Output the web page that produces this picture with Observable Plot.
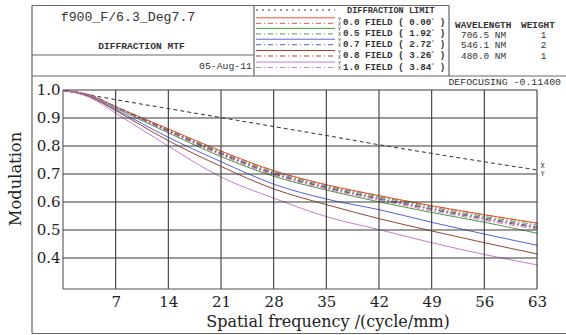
<!DOCTYPE html>
<html><head><meta charset="utf-8">
<script src="https://cdn.jsdelivr.net/npm/d3@7"></script>
<script src="https://cdn.jsdelivr.net/npm/@observablehq/plot@0.6"></script>
<style>body{margin:0;background:#fff}</style>
</head><body><div id="chart"></div>
<script>
// ---- data ----
const freq      = [0, 3.5, 7, 14, 21, 28, 35, 42, 49, 56, 63];
const diffLimit = [1, 0.984, 0.967, 0.935, 0.903, 0.871, 0.839, 0.806, 0.775, 0.745, 0.716];
const t00 = [1, 0.984, 0.942, 0.862, 0.783, 0.713, 0.663, 0.624, 0.588, 0.556, 0.526];
const s00 = [1, 0.984, 0.942, 0.862, 0.783, 0.713, 0.663, 0.624, 0.588, 0.556, 0.526];
const t05 = [1, 0.981, 0.936, 0.848, 0.763, 0.693, 0.644, 0.602, 0.564, 0.529, 0.490];
const s05 = [1, 0.983, 0.941, 0.858, 0.778, 0.708, 0.659, 0.620, 0.583, 0.550, 0.519];
const t07 = [1, 0.979, 0.931, 0.832, 0.745, 0.665, 0.612, 0.574, 0.529, 0.487, 0.447];
const s07 = [1, 0.983, 0.940, 0.856, 0.775, 0.704, 0.655, 0.615, 0.578, 0.545, 0.513];
const t08 = [1, 0.978, 0.927, 0.820, 0.728, 0.648, 0.592, 0.542, 0.498, 0.456, 0.416];
const s08 = [1, 0.983, 0.939, 0.854, 0.772, 0.701, 0.652, 0.612, 0.575, 0.541, 0.509];
const t10 = [1, 0.975, 0.918, 0.800, 0.690, 0.615, 0.549, 0.503, 0.456, 0.414, 0.377];
const s10 = [1, 0.982, 0.938, 0.851, 0.768, 0.697, 0.648, 0.608, 0.570, 0.536, 0.504];
const xTicks = [7, 14, 21, 28, 35, 42, 49, 56, 63];
const yTicks = [0.4, 0.5, 0.6, 0.7, 0.8, 0.9, 1.0];
const yTickLabels = ["0.4", "0.5", "0.6", "0.7", "0.8", "0.9", "1.0"];
const xDomain = [0, 63];
const yDomain = [0.2893, 1];
const fieldNames = ["0.0", "0.5", "0.7", "0.8", "1.0"];
const fieldAngles = ["0.00", "1.92", "2.72", "3.26", "3.84"];
const fieldColors = ["#f0502c", "#4c9a48", "#5262d6", "#9a4434", "#c67cc8"];
const tangential = [t00, t05, t07, t08, t10];
const sagittal = [s00, s05, s07, s08, s10];
const wavelengths = ["706.5 NM", "546.1 NM", "480.0 NM"];
const weights = ["1", "2", "1"];

const toRows = vals => freq.map((f, i) => ({f, v: vals[i]}));
const serif = "DejaVu Serif";
const mono = "Liberation Mono";
const gridColor = "#3a3a3a";

const marks = [
  Plot.line(toRows(diffLimit), {x: "f", y: "v", stroke: "#222", strokeWidth: 1, strokeDasharray: "3,4", curve: "monotone-x"})
];
tangential.forEach((vals, k) => {
  marks.push(Plot.line(toRows(vals), {x: "f", y: "v", stroke: fieldColors[k], strokeWidth: 1, curve: "monotone-x"}));
});
sagittal.forEach((vals, k) => {
  marks.push(Plot.line(toRows(vals), {x: "f", y: "v", stroke: fieldColors[k], strokeWidth: 1, strokeDasharray: "5,3,1,3", curve: "monotone-x"}));
});
marks.push(
  Plot.text(xTicks, {x: d => d, y: () => yDomain[0], dy: 13, text: d => String(d), fontSize: 15, fontFamily: serif, fill: "#222"}),
  Plot.text(yTicks, {x: () => xDomain[0], y: d => d, dx: -3, text: (d, i) => yTickLabels[i], textAnchor: "end", fontSize: 15, fontFamily: serif, fill: "#222"}),
  Plot.text([diffLimit[diffLimit.length - 1]], {x: () => 63, y: d => d, dx: 5, dy: -4, text: () => "X", fontSize: 7, fontFamily: mono, fill: "#333"}),
  Plot.text([diffLimit[diffLimit.length - 1]], {x: () => 63, y: d => d, dx: 5, dy: 4, text: () => "Y", fontSize: 7, fontFamily: mono, fill: "#333"})
);

const plot = Plot.plot({
  width: 566, height: 335,
  marginLeft: 63, marginRight: 29, marginTop: 90, marginBottom: 46,
  x: {domain: xDomain, axis: null},
  y: {domain: yDomain, axis: null},
  style: {background: "#fff", fontFamily: serif},
  marks
});
document.getElementById("chart").appendChild(plot);

const svg = d3.select(plot);

// ---- grid, positioned through the plot's own scales ----
const sx = plot.scale("x"), sy = plot.scale("y");
const fx = sx.apply ? v => sx.apply(v) : d3.scaleLinear(sx.domain, sx.range);
const fy = sy.apply ? v => sy.apply(v) : d3.scaleLinear(sy.domain, sy.range);
const grid = svg.append("g");
[xDomain[0], ...xTicks].forEach((t, i) => {
  grid.append("line").attr("x1", fx(t)).attr("x2", fx(t)).attr("y1", fy(yDomain[0])).attr("y2", fy(yDomain[1]))
    .attr("stroke", i === 0 ? "#555" : gridColor).attr("stroke-width", 1.1);
});
[yDomain[0], ...yTicks].forEach((t, i) => {
  grid.append("line").attr("x1", fx(xDomain[0])).attr("x2", fx(xDomain[1])).attr("y1", fy(t)).attr("y2", fy(t))
    .attr("stroke", i === 0 ? "#555" : gridColor).attr("stroke-width", 1.1);
});

// ---- header boxes, axis titles ----
const g = svg.append("g");
const ln = (x1, y1, x2, y2) => g.append("line").attr("x1", x1).attr("y1", y1).attr("x2", x2).attr("y2", y2)
  .attr("stroke", "#666").attr("stroke-width", 1.2);
ln(32, 5.5, 449, 5.5);
ln(32, 5.5, 32, 333.5);
ln(32, 333.5, 566, 333.5);
ln(32, 76, 566, 76);
ln(32, 55, 254, 55);
ln(254, 5.5, 254, 76);
ln(449, 5.5, 449, 76);

const txt = (x, y, s, opts = {}) => g.append("text").attr("x", x).attr("y", y)
  .attr("font-family", opts.family || mono).attr("font-size", opts.size || 9)
  .attr("font-weight", opts.weight || "normal").attr("fill", opts.fill || "#333")
  .attr("text-anchor", opts.anchor || "start").text(s);

txt(128, 20.5, "f900_F/6.3_Deg7.7", {size: 13.2, anchor: "middle"});
txt(141.5, 49, "DIFFRACTION MTF", {size: 9.6, weight: "bold", anchor: "middle"});
txt(252, 68.5, "05-Aug-11", {size: 9.8, anchor: "end"});

// legend
g.append("line").attr("x1", 256).attr("x2", 335).attr("y1", 10).attr("y2", 10)
  .attr("stroke", "#333").attr("stroke-dasharray", "2,4");
txt(347, 13, "DIFFRACTION LIMIT", {size: 8.6, weight: "bold"});
fieldNames.forEach((name, k) => {
  const cy = [22.3, 32.9, 43.7, 55, 66.5][k];
  g.append("line").attr("x1", 256).attr("x2", 335).attr("y1", cy - 4.5).attr("y2", cy - 4.5)
    .attr("stroke", fieldColors[k]).attr("stroke-width", 1);
  g.append("line").attr("x1", 256).attr("x2", 335).attr("y1", cy + 1).attr("y2", cy + 1)
    .attr("stroke", fieldColors[k]).attr("stroke-width", 1).attr("stroke-dasharray", "5,3,1,3");
  txt(339.5, cy - 1.5, "Y", {size: 5, anchor: "middle"});
  txt(339.5, cy + 3.5, "X", {size: 5, anchor: "middle"});
  const t = txt(343, cy + 3, name + " FIELD ( " + fieldAngles[k], {size: 9.2, weight: "bold"});
  t.append("tspan").attr("font-size", 5).attr("dy", -3).text("°");
  t.append("tspan").attr("dy", 3).text(" )");
});

// wavelengths
txt(455, 28, "WAVELENGTH", {size: 9.4, weight: "bold"});
txt(521, 28, "WEIGHT", {size: 9.4, weight: "bold"});
wavelengths.forEach((w, i) => {
  const y = [38, 47.7, 59][i];
  txt(461, y, w, {size: 9.4});
  txt(543.5, y, weights[i], {size: 9.4, anchor: "middle"});
});
txt(561, 85, "DEFOCUSING -0.11400", {size: 9.9, anchor: "end"});

// axis titles
g.append("text").attr("transform", "translate(21,179) rotate(-90)")
  .attr("text-anchor", "middle").attr("font-family", serif).attr("font-size", 16.3)
  .attr("fill", "#222").text("Modulation");
g.append("text").attr("x", 328).attr("y", 327).attr("text-anchor", "middle")
  .attr("font-family", serif).attr("font-size", 16).attr("fill", "#222")
  .text("Spatial frequency /(cycle/mm)");
</script></body></html>
